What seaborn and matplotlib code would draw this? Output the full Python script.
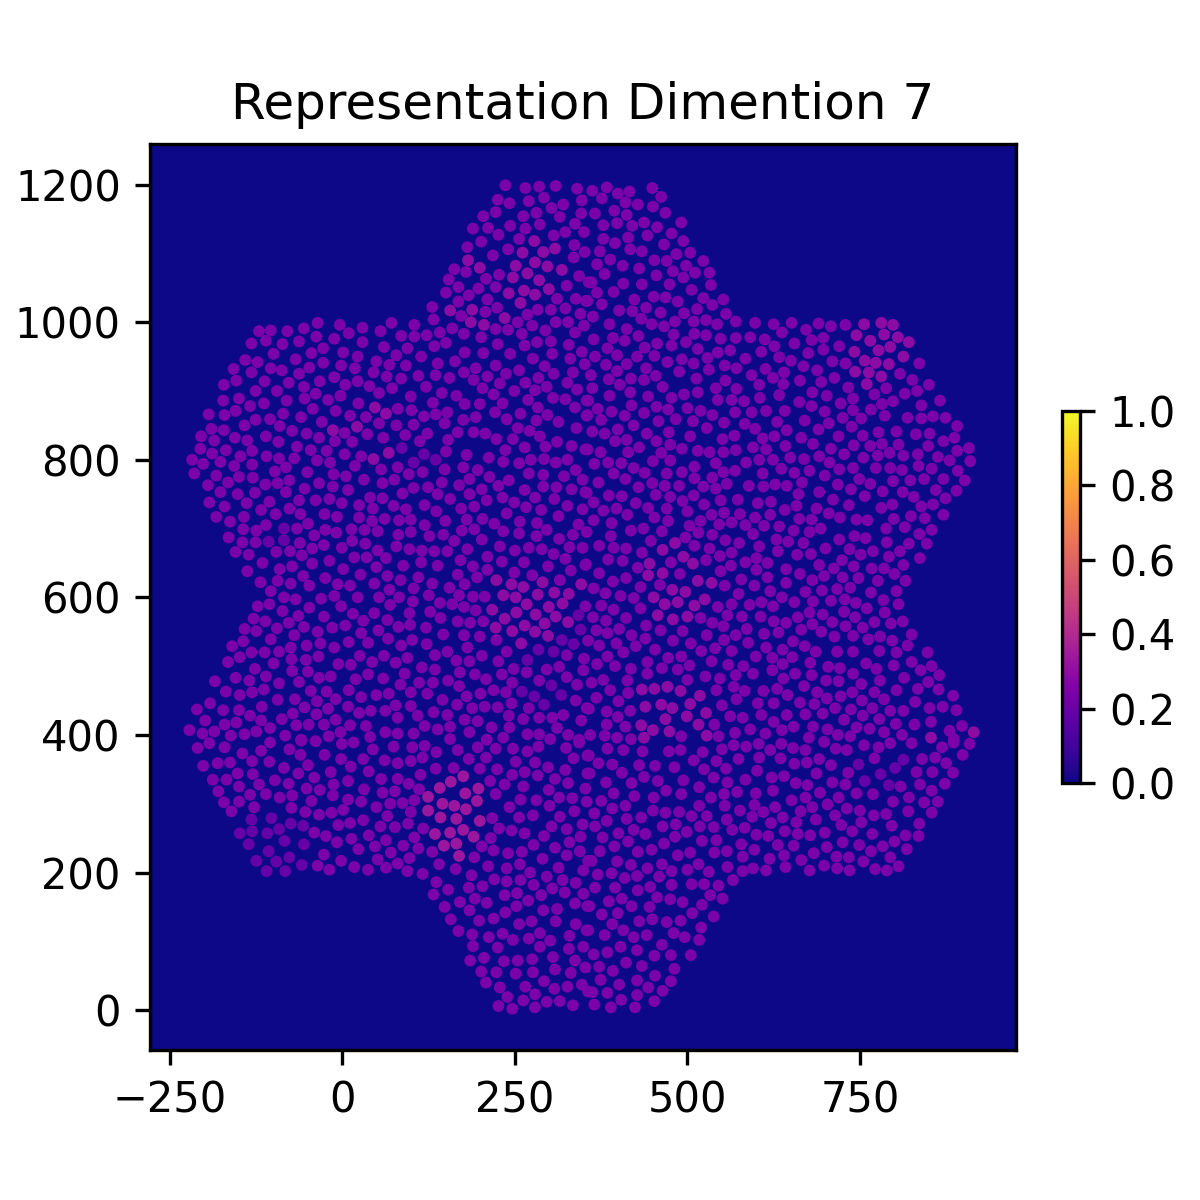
#!/usr/bin/env python3

import pandas as pd
import seaborn as sns
import matplotlib.pyplot as plt
from matplotlib.cm import ScalarMappable
from matplotlib.colors import Normalize

## Spot positions, grouped by how bright they look
upper_left = [(236,1199),(265,1195),(285,1197),(309,1198),(340,1194),(225,1178),(242,1173),(270,1176),(292,1181),(347,1177),(320,1171),(303,1166),(222,1160),(204,1154),(262,1154),(281,1159),(346,1158),(315,1153),(189,1136),(211,1137),(243,1140),(265,1136),(286,1142),(337,1143),(226,1127),(306,1126),(323,1131),(350,1131),(201,1117),(256,1121),(181,1109),(336,1112),(240,1106),(218,1097),(351,1102),(335,1094),(162,1077),(179,1073),(227,1069),(343,1067),(154,1062),(208,1063),(357,1058),(168,1051),(222,1051),(197,1049),(325,1053),(150,1043),(183,1039),(210,1033),(311,1034),(338,1034),(353,1031),(168,1030),(130,1022),(224,1021),(207,1015),(283,1018),(302,1018),(323,1020),(345,1012),(268,1011),(172,1009),(132,1004),(-36,999),(71,999),(-4,996),(29,992),(104,996),(254,1000),(309,1000),(327,1000),(275,995),(350,995),(-121,987),(-104,988),(-80,987),(-56,991),(55,987),(159,991),(222,990),(240,989),(294,988),(9,984),(141,985),(176,983),(337,985),(260,983),(-38,979),(85,980),(104,979),(122,981),(-12,976),(201,978),(-63,972),(-111,973),(-132,969),(-87,968),(29,971),(150,970),(282,971),(302,972),(225,968),(264,966),(60,964),(133,965),(-28,962),(94,962),(328,967),(-45,955),(1,956),(-100,954),(347,957),(177,956),(204,955),(243,954),(304,954),(78,952),(22,950),(114,950),(-68,946),(276,947),(330,947),(-141,945),(-123,942),(-28,941),(49,943),(163,943),(138,940),(351,939),(68,938),(92,937),(222,937),(-2,937),(293,936),(-158,932),(-104,933),(-48,934),(18,933),(193,933),(-88,930),(-132,927),(45,927),(256,930),(334,927),(176,927),(-63,925),(237,925),(306,925),(135,923),(210,921),(-12,920),(64,921),(110,922),(155,919),(284,919),(85,918),(190,916),(-154,915),(-113,914),(-33,914),(22,914),(-78,912),(228,911),(265,912),(326,912),(-172,909),(4,909),(39,907),(121,906),(-56,906),(72,904),(296,906),(203,904),(-95,900),(-126,900),(-39,896),(53,897),(144,897),(249,900),(279,901),(340,902),(219,895),(165,893),(-3,893),(99,892),(-150,889),(-55,889),(305,890),(-173,886),(-21,887),(-81,886),(269,887),(323,888),(131,883),(-114,882),(23,882),(177,881),(199,881),(232,882),(354,886),(-134,878),(283,876),(337,876),(-43,874),(80,874),(100,872),(-155,871),(-10,871),(152,869),(-194,866),(221,869),(-86,867),(135,866),(-171,865),(258,867),(34,862),(11,864),(118,863),(297,865),(-60,862),(354,864),(-126,858),(-105,859),(175,858),(193,862),(238,859),(281,857),(-30,855),(53,853),(103,851),(148,853),(313,855),(-142,850),(-91,849),(78,850),(-190,845),(339,846),(254,846),(-172,843),(-73,842),(271,842),(167,840),(123,838),(190,840),(207,838),(-52,838),(3,839),(36,837),(91,836),(286,834),(-205,834),(-111,834),(-156,832),(-34,832),(59,832),(223,830),(247,830),(-186,828),(-138,828),(-11,827),(-93,826),(14,826),(112,827),(153,829),(311,826)]

upper_right = [(362,1191),(383,1196),(399,1187),(416,1190),(449,1195),(462,1182),(376,1180),(410,1174),(428,1171),(450,1168),(394,1162),(366,1158),(412,1156),(468,1159),(398,1144),(378,1141),(420,1140),(437,1145),(456,1138),(491,1145),(477,1129),(442,1126),(414,1123),(378,1121),(395,1115),(494,1118),(466,1113),(417,1106),(434,1103),(373,1103),(484,1099),(504,1101),(388,1091),(452,1090),(470,1089),(523,1089),(369,1084),(406,1082),(498,1082),(430,1078),(479,1074),(511,1072),(532,1072),(380,1070),(455,1068),(494,1065),(361,1058),(407,1056),(434,1055),(474,1055),(534,1054),(506,1047),(369,1043),(393,1044),(451,1037),(468,1036),(423,1033),(523,1035),(552,1033),(355,1031),(486,1030),(376,1026),(536,1025),(440,1021),(514,1019),(401,1017),(420,1016),(461,1014),(495,1013),(556,1012),(363,1008),(433,1005),(527,1003),(509,1001),(482,1001),(570,1001),(598,999),(625,997),(651,999),(690,998),(448,997),(543,997),(387,997),(466,994),(729,996),(708,994),(672,989),(412,990),(637,985),(480,982),(510,983),(527,981),(429,980),(570,977),(591,978),(548,976),(364,975),(392,977),(409,973),(612,975),(680,974),(697,977),(498,971),(456,969),(655,969),(477,966),(626,965),(438,963),(720,965),(384,962),(515,961),(697,960),(562,959),(544,956),(607,957),(675,955),(398,952),(452,951),(366,950),(427,950),(633,949),(529,948),(584,947),(492,946),(650,944),(710,943),(471,942),(836,940),(412,939),(729,940),(509,940),(554,937),(382,938),(668,936),(571,933),(440,933),(613,932),(531,931),(688,930),(488,928),(398,929),(640,927),(808,925),(593,923),(360,923),(454,922),(624,919),(513,918),(713,919),(418,918),(386,917),(437,916),(826,916),(663,915),(555,915),(694,913),(604,909),(639,910),(402,909),(464,906),(850,909),(541,904),(733,905),(362,904),(571,903),(788,904),(515,898),(417,898),(681,898),(833,900),(771,895),(495,895),(815,896),(702,893),(443,892),(387,893),(633,894),(477,890),(740,889),(605,890),(544,887),(564,887),(866,886),(582,885),(798,885),(662,884),(356,886),(782,881),(722,882),(419,879),(455,877),(680,878),(839,879),(370,874),(472,873),(500,875),(766,873),(740,872),(641,871),(390,870),(519,871),(614,871),(593,869),(569,869),(699,870),(437,868),(536,865),(355,865),(856,863),(409,864),(786,864),(725,861),(874,861),(458,856),(375,858),(483,859),(819,861),(839,860),(752,860),(670,857),(508,856),(630,855),(553,854),(705,853),(422,850),(583,852),(891,849),(738,848),(528,846),(399,844),(690,844),(644,843),(598,845),(362,841),(803,841),(777,840),(473,840),(380,838),(441,838),(831,837),(851,838),(568,835),(504,834),(754,835),(719,834),(626,834),(609,831),(665,832),(551,830),(887,832),(871,827),(412,829),(395,827),(455,827)]

middle_left = [(-206,816),(-189,809),(-169,814),(-148,805),(-131,813),(-218,800),(-202,794),(-177,797),(-157,791),(-131,793),(-110,805),(-92,802),(-70,802),(-66,819),(-46,814),(-23,813),(3,808),(27,805),(-37,799),(-18,796),(18,791),(-82,789),(-98,783),(-215,780),(-183,777),(-150,775),(-130,774),(-51,782),(-13,779),(5,776),(56,786),(80,789),(96,779),(116,782),(148,786),(175,789),(196,785),(213,775),(184,772),(241,770),(270,780),(291,778),(321,776),(338,785),(348,771),(256,795),(233,797),(212,803),(180,807),(150,812),(236,814),(273,800),(292,801),(309,796),(326,800),(294,819),(264,818),(332,820),(352,815),(-195,763),(-166,767),(-112,764),(-94,766),(-77,770),(-34,766),(-14,761),(31,771),(58,766),(75,771),(103,759),(124,760),(144,767),(169,763),(202,757),(226,762),(264,756),(291,761),(310,760),(332,757),(352,753),(-177,753),(-152,750),(-127,752),(-82,753),(-55,758),(8,756),(87,751),(138,750),(184,750),(209,741),(232,745),(249,738),(279,745),(307,743),(326,733),(-193,738),(-171,732),(-139,737),(-106,739),(-63,741),(-39,741),(-19,743),(-1,737),(40,745),(58,744),(24,734),(74,733),(119,734),(156,743),(191,732),(172,729),(266,731),(348,728),(-183,717),(-118,727),(-77,729),(44,729),(92,728),(136,725),(238,722),(288,727),(-163,710),(-143,717),(-97,721),(-61,721),(-26,721),(-8,717),(24,716),(313,718),(43,711),(61,714),(82,712),(99,713),(149,711),(180,713),(203,714),(220,707),(257,710),(282,708),(342,706),(-111,705),(-50,707),(119,705),(-144,699),(-125,697),(-66,700),(-25,698),(13,699),(32,698),(51,696),(173,697),(191,699),(233,696),(296,698),(-9,694),(81,691),(99,695),(256,693),(281,689),(334,691),(-41,690),(146,691),(-165,687),(354,695),(-145,680),(-126,680),(-62,679),(-27,676),(14,682),(33,678),(126,689),(162,682),(202,684),(314,685),(-1,672),(78,674),(97,670),(-44,671),(51,668),(115,668),(133,667),(181,670),(228,674),(250,668),(270,672),(289,670),(329,673),(348,672),(-155,666),(-136,662),(-96,666),(-76,667),(152,667),(-59,661),(306,663),(17,658),(35,658),(63,657),(-19,653),(210,659),(171,654),(231,652),(323,656),(-116,650),(-73,645),(-44,649),(114,651),(138,646),(189,645),(263,651),(298,645),(352,647),(-91,641),(1,641),(49,644),(88,646),(210,640),(331,639),(-138,638),(-57,631),(26,633),(65,631),(110,629),(167,633),(195,629),(249,636),(275,632),(-25,628),(-119,622),(-94,624),(-75,620),(84,625),(130,620),(46,620),(315,625),(-7,619),(11,617),(-48,617),(177,619),(103,613),(155,614),(68,611),(-104,609),(125,603),(-12,602),(-85,600),(-68,597),(-31,598),(22,600),(53,600),(82,600),(169,603),(189,601),(206,601),(102,594),(141,592),(-123,587),(-106,590),(-2,587),(69,589),(159,590),(176,586),(352,587),(-48,585),(-87,580),(127,579),(193,581),(15,576),(46,577),(97,577),(-64,573),(-27,572),(142,570),(-129,569),(-112,565),(65,567),(30,566),(204,565),(167,565),(185,563),(-78,563),(4,559),(98,560),(81,557),(-56,557),(-15,556),(121,556),(-142,554),(-95,555),(52,552),(-125,551),(-36,550),(27,548),(-70,545),(146,546),(176,545),(199,543),(66,540),(-104,539),(101,538),(223,538),(-144,536),(9,535),(37,534),(-32,533),(-160,529),(85,530),(-52,530),(122,532),(-75,527),(-12,527),(181,527),(-132,520),(-113,520),(-92,521),(238,521),(152,521),(25,515),(60,515),(134,516),(-35,514),(-149,513),(202,515),(325,516),(-74,510),(-53,509),(94,512),(165,508),(-166,506),(-100,504),(43,506),(184,507),(226,507),(77,505),(350,511),(-6,503),(12,502),(314,499),(115,498),(-127,496),(248,496),(134,495),(296,495),(-73,493),(-50,492),(267,491),(349,494),(170,491),(37,488),(90,489),(192,488),(231,488),(-155,483),(-111,485),(-17,485),(-34,483),(59,482),(19,481),(208,481),(325,484),(-135,479),(-185,478),(-63,477),(111,476),(131,476),(153,479),(285,479),(-92,475),(246,476),(84,473),(169,471),(340,473),(-114,466),(-169,463),(-131,462),(-46,464),(-23,463),(9,465),(219,465),(-149,458),(99,462),(237,462),(49,458),(67,460),(123,460),(200,460),(27,455),(180,456),(-94,451),(-69,452),(-10,452),(145,451),(338,450),(-192,446),(-37,449),(245,446),(77,443),(99,442),(166,444),(-211,437),(-117,441),(-55,440),(8,441),(206,441),(225,440),(270,439),(-173,436),(-150,436),(-21,438),(188,439),(62,435),(41,435),(132,433),(354,439),(-38,430),(-72,431),(24,432),(-134,428),(109,428),(152,429),(241,428),(320,429),(-199,421),(80,425),(304,425),(285,425),(-118,421),(-88,423),(177,422),(262,423),(-10,422),(-154,418),(196,420),(346,421),(-171,415),(-67,414),(-49,415),(-27,415),(11,414),(119,413),(216,411),(34,413),(-105,410),(242,411),(138,408),(156,412),(311,410),(-222,407),(-186,405),(-125,405),(62,404),(80,402),(-3,404),(184,404),(-203,402),(-162,399),(-142,401),(-83,399),(103,402),(-20,398),(268,401),(285,401),(327,400),(40,397),(301,394),(-60,393),(156,394),(209,393),(233,396),(343,393)]

middle_right = [(355,815),(374,811),(414,811),(430,818),(462,810),(475,822),(492,816),(515,813),(532,811),(552,811),(570,814),(595,818),(614,815),(642,820),(682,823),(708,816),(741,821),(765,820),(782,823),(806,822),(849,820),(908,817),(891,813),(793,810),(776,806),(834,808),(813,806),(727,808),(691,805),(755,803),(863,804),(649,803),(604,800),(624,800),(669,801),(706,796),(880,799),(910,798),(365,794),(385,796),(404,795),(450,798),(475,799),(541,795),(585,796),(510,790),(422,788),(720,786),(740,788),(773,788),(794,788),(811,785),(835,791),(854,787),(636,787),(655,781),(677,784),(892,784),(393,780),(438,781),(470,780),(492,782),(552,782),(569,784),(609,780),(536,774),(510,773),(699,777),(871,772),(371,767),(410,772),(749,772),(823,770),(843,772),(798,769),(902,770),(718,764),(765,765),(666,767),(449,766),(467,762),(488,762),(557,765),(523,761),(589,762),(610,761),(627,764),(644,762),(541,758),(429,760),(737,757),(860,756),(890,755),(783,754),(812,753),(354,752),(691,753),(661,750),(386,748),(405,747),(454,749),(509,748),(475,746),(757,747),(828,746),(573,742),(548,741),(621,739),(711,742),(874,744),(493,740),(364,738),(425,737),(602,737),(524,735),(658,733),(797,735),(856,735),(734,734),(443,730),(470,729),(397,729),(687,729),(839,732),(781,730),(378,726),(500,725),(553,723),(641,727),(535,720),(576,721),(413,720),(620,720),(705,722),(824,718),(871,720),(452,716),(598,716),(721,716),(364,712),(519,711),(662,714),(680,713),(745,713),(761,712),(799,714),(844,715),(472,711),(390,708),(564,709),(546,706),(503,704),(584,705),(611,704),(633,703),(815,702),(788,700),(693,700),(854,698),(418,697),(436,700),(463,696),(654,697),(677,695),(516,694),(595,692),(389,689),(536,691),(836,692),(497,687),(742,689),(758,686),(720,684),(447,682),(629,684),(555,683),(646,681),(575,679),(668,679),(789,680),(821,678),(847,678),(372,675),(510,675),(604,674),(393,672),(411,671),(532,671),(700,671),(735,670),(631,667),(434,665),(808,667),(769,667),(564,665),(659,662),(679,663),(751,662),(547,660),(792,659),(837,657),(600,657),(385,655),(406,653),(527,654),(724,654),(353,648),(476,651),(584,651),(616,650),(691,647),(813,647),(741,645),(563,646),(428,643),(767,642),(785,642),(548,638),(600,640),(643,641),(712,642),(372,635),(489,634),(663,634),(800,634),(698,631),(616,629),(411,628),(725,629),(748,628),(578,626),(392,623),(681,625),(816,624),(776,624),(643,621),(460,618),(432,615),(554,617),(597,617),(364,613),(695,610),(717,612),(736,614),(620,609),(381,606),(671,608),(803,609),(766,607),(574,605),(403,602),(637,600),(422,599),(682,594),(708,595),(728,597),(784,596),(655,593),(607,593),(744,592),(564,590),(375,588),(590,589),(624,587),(806,590),(544,586),(432,584),(393,582),(760,584),(677,578),(727,579),(786,578),(696,575),(558,574),(579,572),(363,571),(743,571),(606,572),(660,571),(411,570),(519,570),(382,566),(625,565),(643,563),(812,565),(771,564),(710,564),(536,563),(795,562),(681,561),(440,559),(552,558),(729,558),(754,556),(586,554),(368,552),(401,554),(461,552),(493,551),(665,553),(384,548),(419,545),(694,550),(528,545),(570,545),(611,547),(632,549),(740,544),(825,546),(713,543),(439,540),(762,539),(779,543),(553,538),(797,537),(479,537),(356,537),(653,536),(505,533),(397,533),(588,534),(819,530),(372,530),(425,529),(614,527),(670,529),(540,526),(453,524),(638,524),(686,521),(717,521),(520,522),(564,522),(740,521),(778,522),(407,520),(803,520),(848,520),(384,514),(472,512),(491,514),(599,514),(652,513),(623,512),(535,507),(369,503),(442,506),(678,505),(759,504),(825,506),(559,502),(503,501),(395,500),(638,503),(704,499),(799,501),(854,500),(581,500),(418,496),(463,497),(721,497),(486,495),(774,496),(838,494),(623,494),(442,489),(595,489),(570,487),(656,489),(740,489),(865,487),(680,487),(526,485),(500,480),(547,482),(639,482),(814,483),(779,479),(378,480),(361,476),(413,479),(701,479),(719,478),(849,477),(752,474),(669,471),(567,470),(388,465),(542,465),(583,464),(630,467),(610,464),(803,465),(834,467),(864,466),(414,461),(688,462),(739,462),(771,462),(645,458),(885,457),(722,456),(368,454),(571,452),(702,453),(785,452),(753,450),(400,449),(663,447),(602,446),(625,446),(830,448),(684,445),(550,443),(714,439),(768,439),(851,439),(870,441),(357,438),(417,435),(383,434),(737,437),(794,435),(813,435),(696,431),(890,436),(671,430),(607,429),(644,429),(562,427),(754,428),(399,426),(580,425),(778,423),(727,422),(853,419),(625,419),(383,415),(410,412),(802,416),(539,415),(829,415),(745,411),(682,412),(654,412),(898,413),(637,407),(703,408),(591,408),(764,409),(569,403),(880,406),(359,400),(613,402),(785,404),(811,400),(380,399),(718,400),(676,396),(736,398),(398,396),(418,394),(491,398),(545,398),(886,394)]

lower_left = [(-210,381),(-193,388),(-171,382),(-105,389),(-77,379),(-145,373),(-118,377),(-60,392),(-39,391),(-1,387),(16,389),(44,379),(74,383),(101,382),(119,384),(136,375),(167,378),(196,382),(222,380),(247,380),(268,376),(284,383),(324,381),(343,389),(-26,371),(-61,371),(-131,362),(-163,360),(-181,359),(-202,355),(-106,361),(-50,356),(-2,365),(30,365),(61,363),(80,359),(99,362),(116,367),(183,365),(208,367),(251,361),(279,360),(335,366),(355,370),(-85,352),(12,354),(135,351),(161,352),(199,351),(224,350),(298,353),(323,349),(-152,344),(-130,343),(-64,344),(-17,346),(38,347),(264,346),(246,342),(-188,335),(-168,335),(-98,334),(-41,338),(56,336),(80,336),(113,342),(283,341),(308,336),(355,344),(214,333),(-150,325),(-121,328),(-78,329),(-13,328),(8,333),(96,329),(235,328),(327,330),(262,325),(-180,318),(-52,322),(-33,320),(31,321),(76,318),(111,321),(299,320),(352,322),(-134,313),(-111,314),(-73,312),(-14,312),(58,316),(222,314),(314,309),(-91,309),(8,306),(258,306),(281,305),(-172,302),(-150,303),(-45,304),(27,303),(87,301),(104,305),(333,308),(354,303),(69,300),(-128,295),(-74,294),(49,295),(300,297),(242,295),(-161,289),(-54,288),(-16,287),(1,291),(99,288),(336,289),(-34,284),(65,282),(315,281),(30,276),(217,279),(256,280),(276,283),(11,272),(-6,269),(55,267),(95,271),(348,270),(76,266),(303,267),(117,264),(227,264),(325,263),(-41,258),(245,261),(264,257),(345,252),(-24,253),(38,254),(292,253),(13,249),(-8,244),(63,247),(104,251),(215,250),(329,244),(47,238),(88,239),(277,240),(202,238),(308,236),(23,234),(110,235),(219,232),(70,229),(130,230),(240,228),(260,230),(344,231),(325,225),(-27,226),(191,222),(97,221),(290,220),(-2,217),(51,219),(356,217),(80,213),(140,212),(257,212),(-36,210),(211,209),(17,208),(63,207),(313,207),(238,206),(-19,204),(37,204),(164,205),(94,202),(272,200),(349,203),(116,198),(187,196),(296,194),(220,190),(258,189),(238,187),(319,189),(136,186),(338,185),(277,182),(183,178),(203,180),(153,175),(304,177),(253,170),(322,171),(132,168),(235,167),(349,169),(192,162),(288,167),(269,159),(170,157),(209,156),(337,155),(252,151),(148,150),(184,145),(291,145),(311,147),(355,151),(236,142),(219,133),(157,132),(198,130),(274,129),(309,129),(256,125),(338,125),(168,115),(188,110),(232,111),(286,112),(354,116),(212,106),(270,104),(301,101),(247,102),(329,108),(189,93),(225,91),(286,92),(328,89),(349,92),(205,76),(305,77),(185,72),(234,71),(254,72),(275,74),(337,72),(308,59),(352,62),(201,56),(223,55),(276,55),(251,53),(331,54),(292,42),(208,40),(265,34),(228,33),(326,34),(347,37),(307,31),(279,23),(239,19),(356,27),(262,14),(296,12),(315,13),(226,6),(334,7),(279,4),(246,2)]

lower_right = [(384,380),(407,378),(435,376),(473,376),(490,378),(522,375),(550,379),(567,385),(585,383),(603,387),(620,378),(636,387),(653,381),(671,378),(698,390),(715,380),(731,378),(756,385),(777,382),(794,388),(825,388),(869,382),(886,389),(909,387),(357,370),(574,365),(604,367),(635,366),(691,365),(771,366),(840,365),(859,367),(899,371),(509,363),(542,362),(371,359),(391,357),(430,356),(453,355),(481,353),(655,358),(673,360),(708,356),(875,359),(524,350),(556,351),(601,348),(358,344),(405,345),(687,344),(733,345),(832,346),(855,346),(885,345),(437,339),(538,338),(622,338),(640,340),(382,331),(419,330),(457,333),(494,334),(584,335),(558,331),(657,330),(710,331),(674,327),(729,328),(837,328),(873,329),(517,324),(469,319),(624,319),(809,325),(854,319),(393,315),(491,314),(572,317),(599,315),(692,316),(745,315),(769,314),(423,311),(451,309),(534,309),(553,314),(671,309),(719,309),(821,309),(375,304),(651,305),(798,303),(843,302),(863,303),(410,297),(517,297),(554,297),(597,298),(627,295),(703,299),(681,295),(731,293),(391,293),(365,286),(450,290),(468,287),(488,288),(576,290),(610,288),(664,289),(750,290),(820,289),(854,287),(412,278),(433,280),(506,282),(528,282),(594,281),(638,280),(714,283),(770,283),(788,285),(383,275),(557,277),(686,277),(366,267),(464,267),(483,270),(518,267),(538,266),(621,272),(658,273),(752,273),(796,268),(836,271),(422,262),(565,262),(583,265),(723,269),(400,257),(499,259),(641,260),(660,256),(699,258),(739,260),(439,256),(600,255),(617,253),(678,254),(768,256),(816,254),(835,253),(482,252),(377,251),(414,245),(521,246),(542,247),(800,245),(725,244),(466,242),(578,241),(394,238),(631,240),(654,239),(749,240),(783,238),(702,237),(448,233),(597,233),(766,231),(818,234),(373,231),(428,230),(504,229),(557,231),(539,229),(486,225),(683,228),(640,225),(580,223),(716,223),(734,222),(794,222),(361,217),(619,220),(665,218),(398,216),(755,216),(418,211),(463,212),(516,212),(698,210),(806,209),(642,208),(558,208),(442,206),(717,206),(595,206),(772,205),(477,202),(500,204),(531,201),(580,202),(614,203),(677,203),(735,203),(789,203),(390,199),(370,197),(427,195),(459,194),(409,192),(566,189),(477,182),(506,183),(524,183),(545,181),(446,179),(366,178),(395,178),(428,174),(533,167),(456,164),(551,162),(405,162),(475,161),(386,158),(493,157),(419,151),(445,150),(521,153),(358,151),(399,141),(507,141),(376,139),(538,136),(449,132),(430,129),(490,130),(470,128),(391,125),(520,120),(407,116),(356,116),(480,112),(441,109),(422,106),(380,109),(496,106),(517,102),(463,95),(403,92),(427,87),(384,84),(364,81),(476,80),(452,79),(505,80),(411,69),(434,64),(372,63),(481,60),(392,57),(453,50),(374,44),(427,43),(476,42),(401,37),(443,33),(464,28),(362,26),(384,25),(427,22),(404,15),(452,13),(365,8),(389,4),(424,4)]

dark_spots = [(135,800),(118,808),(103,796),(86,817),(-85,700),(-85,683),(-107,681),(-132,277),(-103,279),(-75,271),(-92,263),(-131,260),(-84,246),(-59,211),(-83,202),(-110,202),(-77,222),(-96,216),(-136,241),(-56,241),(-125,217),(-107,231),(-149,257),(-109,257),(-57,268),(345,553),(342,574),(318,538),(335,532),(306,521),(284,524),(268,509),(260,463),(278,456),(292,444),(317,458),(303,472),(757,333),(801,352),(813,364),(792,327),(780,343),(748,357)]

bright_spots = [(278,1118),(308,1107),(291,1102),(261,1101),(182,1090),(279,1087),(251,1082),(297,1081),(199,1079),(318,1076),(268,1071),(247,1065),(285,1061),(263,1046),(299,1048),(241,1042),(279,1040),(258,1028),(188,1018),(156,1017),(235,1006),(186,1000),(205,996),(47,876),(63,867),(21,848),(-14,843),(67,810),(45,801),(346,619),(223,625),(245,619),(290,622),(262,615),(307,607),(283,604),(328,605),(233,603),(251,600),(267,590),(319,591),(299,586),(217,582),(252,578),(280,575),(309,572),(235,569),(327,564),(293,562),(264,559),(222,556),(246,551),(279,550),(298,544),(259,533),(482,679),(464,669),(494,659),(445,649),(508,649),(464,635),(443,632),(515,624),(535,621),(478,611),(497,608),(451,600),(525,597),(486,593),(467,590),(510,588),(457,574),(500,572),(479,568),(471,470),(434,466),(452,467),(490,464),(518,457),(504,445),(462,444),(439,441),(478,439),(527,432),(499,427),(468,423),(433,414),(516,415),(450,407),(474,405),(915,404),(437,396),(528,399),(853,396),(756,997),(781,999),(798,996),(745,981),(785,982),(805,978),(765,973),(821,971),(794,964),(777,959),(742,957),(813,950),(757,944),(773,941),(792,939),(743,928),(763,927),(781,921),(760,910)]

hot_spots = [(141,323),(124,310),(197,322),(175,340),(157,332),(178,315),(195,304),(145,300),(162,297),(179,292),(124,290),(142,280),(165,278),(199,275),(175,262),(156,258),(134,256),(190,252),(147,239),(165,242),(169,224)]

mid_spots = upper_left + upper_right + middle_left + middle_right + lower_left + lower_right

## Colour value of each group
dark_value = 0.19
mid_value = 0.24
bright_value = 0.29
hot_value = 0.33

x_ticks = [-250, 0, 250, 500, 750]
y_ticks = [0, 200, 400, 600, 800, 1000, 1200]
bar_ticks = [0.0, 0.2, 0.4, 0.6, 0.8, 1.0]

## Put the groups together into one table...
frames = []
for spots, value in [(mid_spots, mid_value), (dark_spots, dark_value),
                     (bright_spots, bright_value), (hot_spots, hot_value)]:
    part = pd.DataFrame(spots, columns=["x", "y"])
    part["value"] = value
    frames.append(part)
data = pd.concat(frames, ignore_index=True)

fig = plt.figure(figsize=(4, 4), dpi=300)
ax = fig.add_axes([0.125, 0.125, 0.7215, 0.755])
ax.set_facecolor(plt.get_cmap("plasma")(0.0))

sns.scatterplot(data=data, x="x", y="y", hue="value", palette="plasma",
                hue_norm=(0, 1), s=8, linewidth=0, legend=False, ax=ax)

ax.set_xlim(-279, 976)
ax.set_ylim(-58, 1259)
ax.set_xticks(x_ticks)
ax.set_yticks(y_ticks)
ax.set_xlabel("")
ax.set_ylabel("")
ax.set_title("Representation Dimention 7")

## Colour bar on the right...
cax = fig.add_axes([0.885, 0.3475, 0.015, 0.31])
bar = fig.colorbar(ScalarMappable(norm=Normalize(0, 1), cmap="plasma"), cax=cax)
bar.set_ticks(bar_ticks)

plt.savefig("out.png", dpi=300)
plt.close()
